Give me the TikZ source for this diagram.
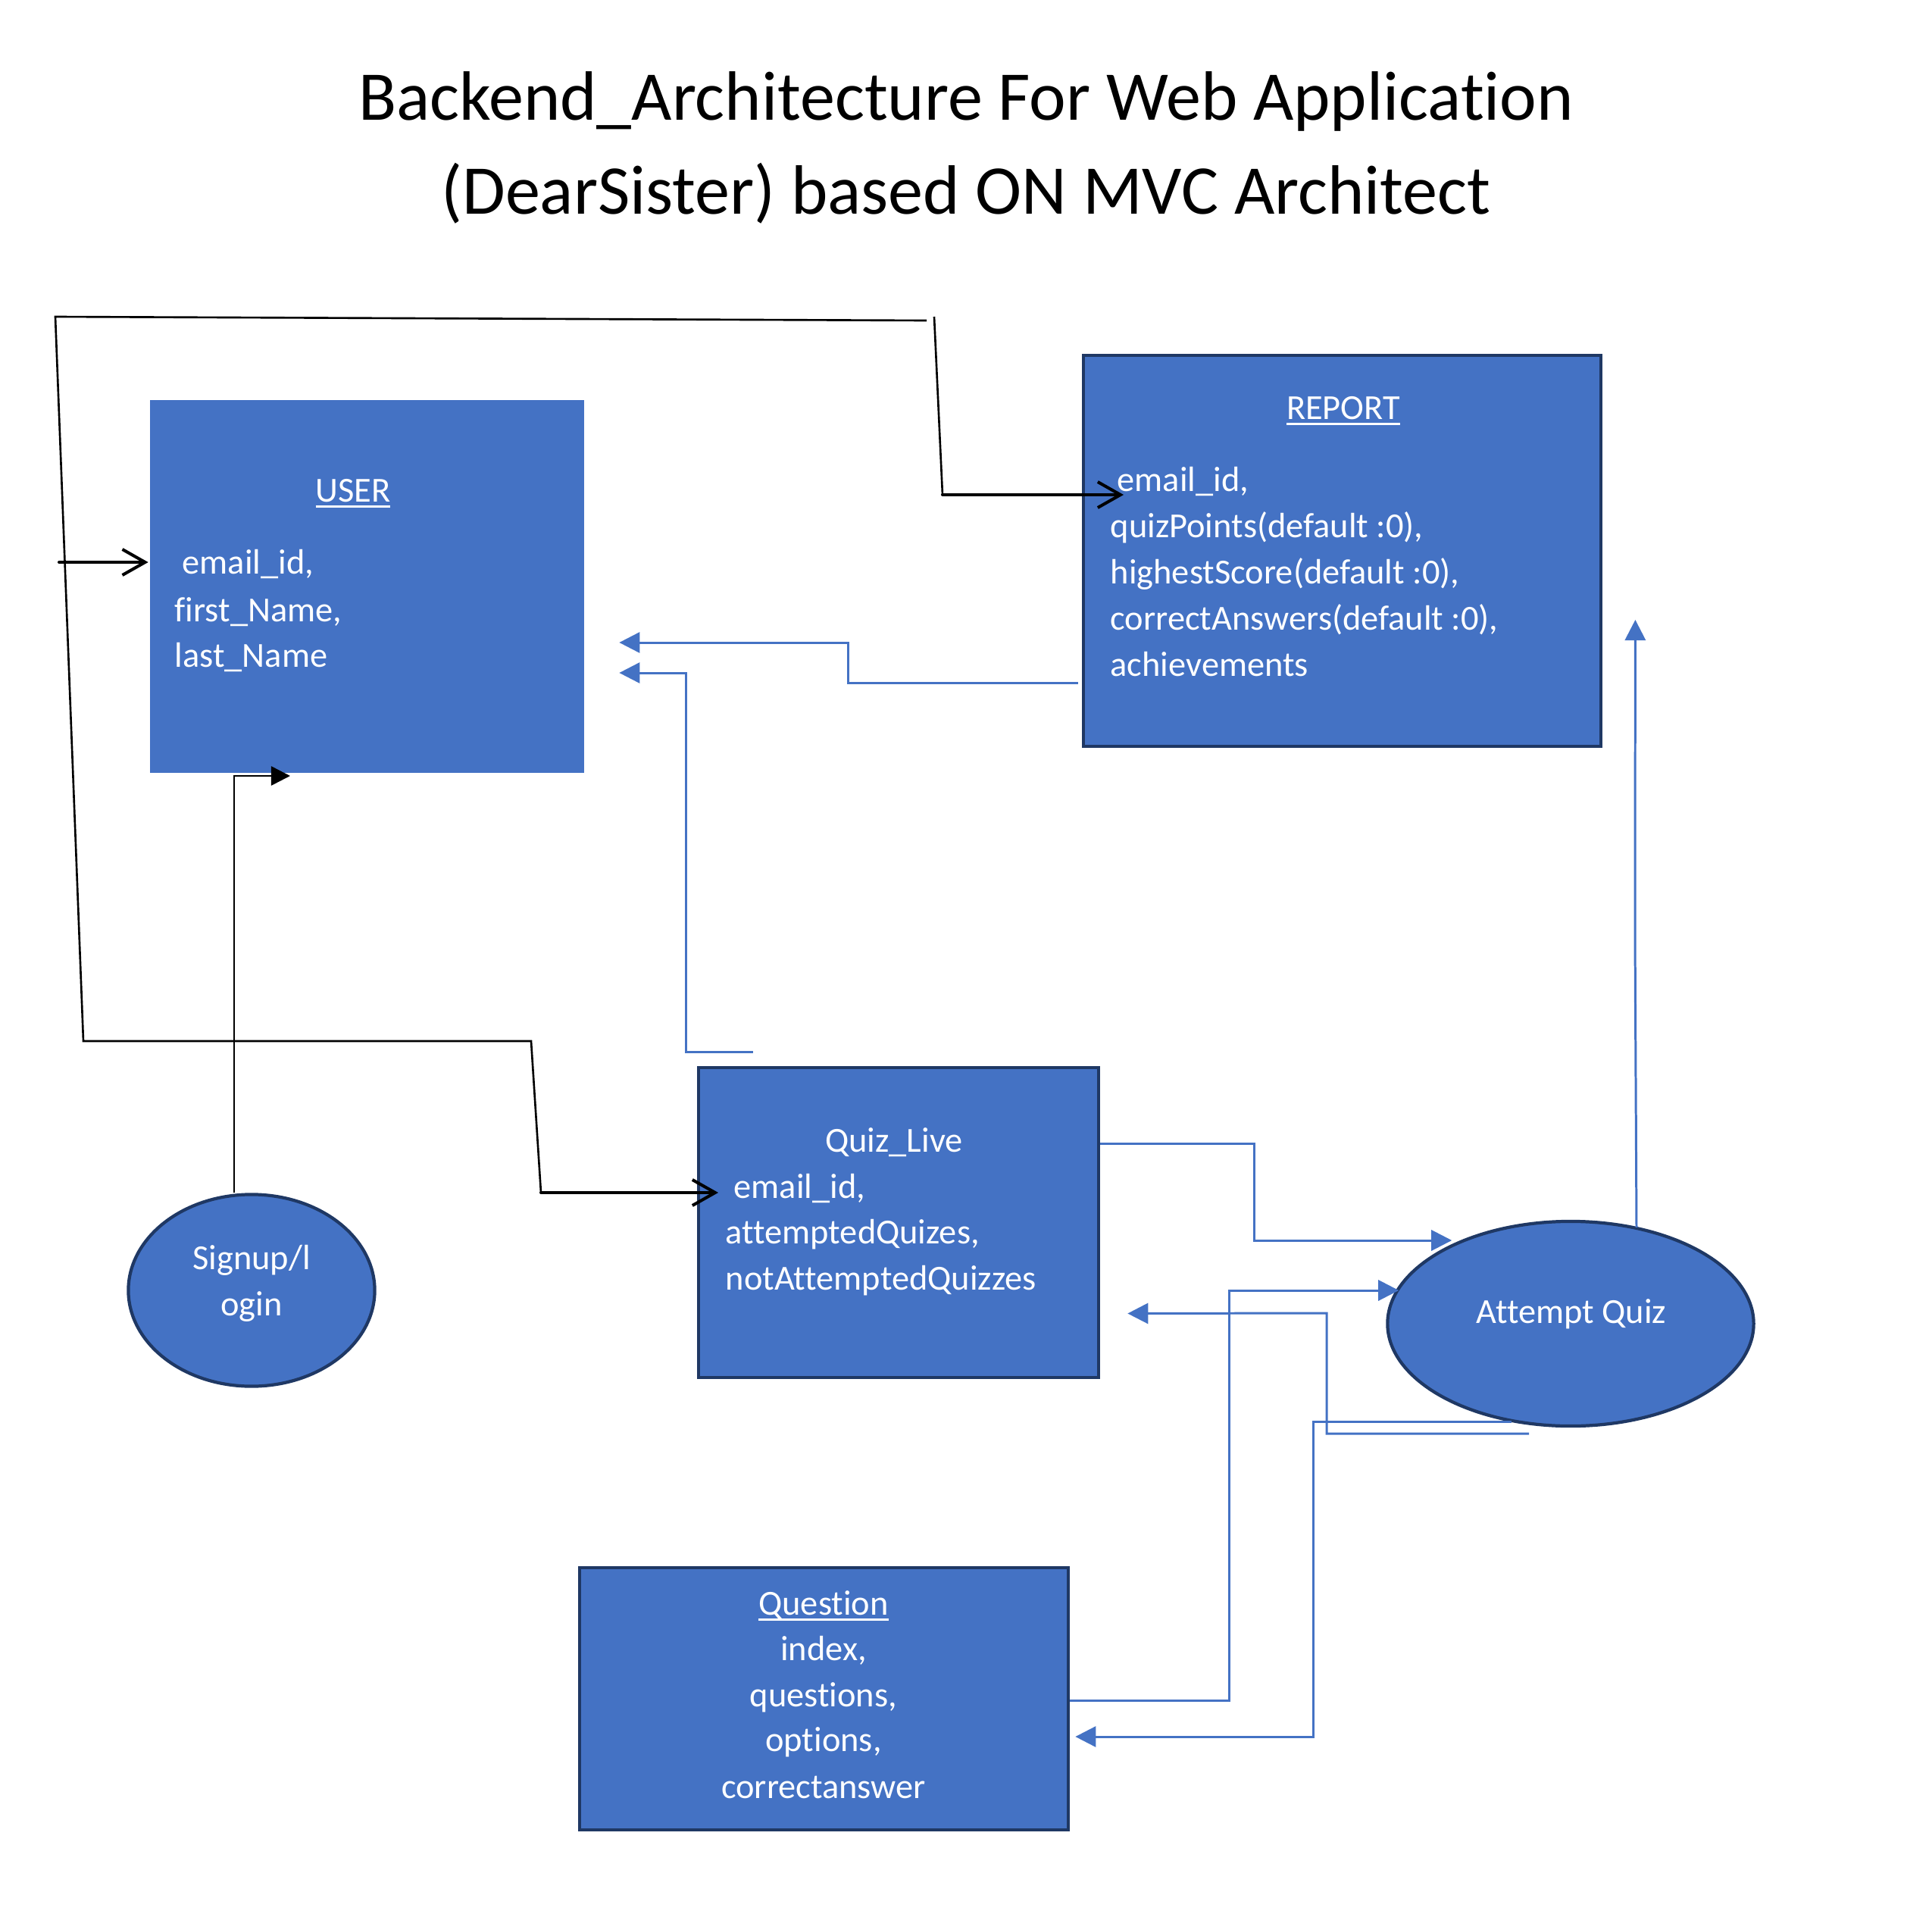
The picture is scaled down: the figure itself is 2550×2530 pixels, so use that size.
\documentclass[tikz,border=0pt]{standalone}
\usepackage{fontspec}
\setmainfont{Carlito}[Ligatures={NoCommon,NoContextual}, Contextuals=NoAlternate]
\usetikzlibrary{arrows.meta,shapes.geometric,calc}

\definecolor{shapeblue}{HTML}{4472C4}
\definecolor{shapenavy}{HTML}{1F3864}
\newcommand{\ulined}[1]{\setbox0=\hbox{#1}\rlap{\rule[-2.2pt]{\wd0}{0.8pt}}\box0}
\newcommand{\bodysize}{\fontsize{13.2pt}{16pt}\selectfont}

\begin{document}
\begin{tikzpicture}[x=0.01cm, y=-0.01cm,
		recordbox/.style={fill=shapeblue, draw=shapenavy, line width=1.25pt, inner sep=0pt},
		entitynode/.style={ellipse, fill=shapeblue, draw=shapenavy, line width=1.2pt, inner sep=0pt},
		fieldtext/.style={text=white, font=\bodysize, inner sep=0pt, anchor=base west},
		headtext/.style={text=white, font=\bodysize, inner sep=0pt, anchor=base},
		blackline/.style={line width=0.75pt},
		blackarrow/.style={line width=1.15pt, line cap=round, -{Straight Barb[length=0.3cm, width=0.34cm]}},
		bluearrow/.style={draw=shapeblue, line width=0.85pt, -{Triangle[length=0.27cm, width=0.27cm]}}]

			\useasboundingbox (0, 0) rectangle (2550, 2530);

			\draw (1275, 158) 	node[font=\fontsize{26.2pt}{30pt}\selectfont, inner sep=0pt, anchor=base] 	(title1) 	{Backend\_Architecture For Web Application};
			\draw (1275, 282) 	node[font=\fontsize{26.2pt}{30pt}\selectfont, inner sep=0pt, anchor=base] 	(title2) 	{(DearSister) based ON MVC Architect};

			\draw (484.5, 774) 	node[recordbox, draw=none, minimum width=5.73cm, minimum height=4.92cm] 	(user) 		{};
			\draw (1771.5, 727) 	node[recordbox, minimum width=6.83cm, minimum height=5.16cm] 	(report) 	{};
			\draw (1186, 1613.5) 	node[recordbox, minimum width=5.28cm, minimum height=4.09cm] 	(quiz) 		{};
			\draw (1087.5, 2242) 	node[recordbox, minimum width=6.45cm, minimum height=3.46cm] 	(question) 	{};
			\draw (332, 1703) 	node[entitynode, minimum width=3.25cm, minimum height=2.53cm] 	(signup) 	{};
			\draw (2073, 1747) 	node[entitynode, minimum width=4.83cm, minimum height=2.70cm] 	(attempt) 	{};

			\draw (466, 662) 	node[headtext] 	(userhead) 	{\ulined{USER}};
			\draw (240, 757) 	node[fieldtext] 	(u1) 	{email\_id,};
			\draw (230, 820) 	node[fieldtext] 	(u2) 	{first\_Name,};
			\draw (230, 880) 	node[fieldtext] 	(u3) 	{last\_Name};

			\draw (1773, 553) 	node[headtext] 	(reporthead) 	{\ulined{REPORT}};
			\draw (1474, 648) 	node[fieldtext] 	(r1) 	{email\_id,};
			\draw (1465, 709) 	node[fieldtext] 	(r2) 	{quizPoints(default :0),};
			\draw (1465, 770) 	node[fieldtext] 	(r3) 	{highestScore(default :0),};
			\draw (1465, 831) 	node[fieldtext] 	(r4) 	{correctAnswers(default :0),};
			\draw (1465, 892) 	node[fieldtext] 	(r5) 	{achievements};

			\draw (1180, 1520) 	node[headtext] 	(quizhead) 	{Quiz\_Live};
			\draw (968, 1581) 	node[fieldtext] 	(q1) 	{email\_id,};
			\draw (957, 1641) 	node[fieldtext] 	(q2) 	{attemptedQuizes,};
			\draw (957, 1702) 	node[fieldtext] 	(q3) 	{notAttemptedQuizzes};

			\draw (1087, 2131) 	node[headtext] 	(questionhead) 	{\ulined{Question}};
			\draw (1087, 2191) 	node[headtext] 	(k1) 	{index,};
			\draw (1087, 2252) 	node[headtext] 	(k2) 	{questions,};
			\draw (1087, 2311) 	node[headtext] 	(k3) 	{options,};
			\draw (1087, 2373) 	node[headtext] 	(k4) 	{correctanswer};

			\draw (332, 1675) 	node[headtext] 	(s1) 	{Signup/l};
			\draw (332, 1736) 	node[headtext] 	(s2) 	{ogin};
			\draw (2074, 1746) 	node[headtext] 	(a1) 	{Attempt Quiz};

			\coordinate (tl) at (73, 418);
			\coordinate (tr) at (1223, 423);
			\coordinate (bl) at (110, 1374);
			\coordinate (bm) at (701, 1374);
			\coordinate (qbend) at (714, 1574);
			\coordinate (ubranch) at (78, 742);
			\coordinate (rtop) at (1233, 418);
			\coordinate (rbend) at (1244, 653);
			\coordinate (sbend) at (309, 1024);

			\draw[blackline] (tr) -- (tl) -- (bl) -- (bm) -- (qbend);
			\draw[blackarrow] (ubranch) -- (user.west |- ubranch);
			\draw[blackarrow] (qbend) -- ([xshift=-0.2cm]q1.west |- qbend);
			\draw[blackline] (rtop) -- (rbend);
			\draw[blackarrow] (rbend) -- ($(r1.base west)+(9, 5)$);
			\draw[blackline, -{Triangle[length=0.25cm, width=0.25cm]}] (signup.north -| sbend) -- (sbend) -- ++(74, 0);

			\draw[bluearrow] ($(report.west)+(-5, 174)$) -| (1119, 848) -- ($(user.east)+(44, 74)$);
			\draw[bluearrow] ($(quiz.north west)+(74, -18)$) -| (905, 888) -- ($(user.east)+(44, 114)$);
			\draw[bluearrow] ($(quiz.north east)+(0, 103)$) -| (1655, 1637) -- ($(attempt.west)+(87, -110)$);
			\draw[bluearrow] ($(question.east)+(0, 2)$) -| (1622, 1703) -- ($(attempt.west)+(17, -44)$);
			\draw[bluearrow] ($(attempt.south)+(-78, -8)$) -| (1733, 2292) -- ($(question.east)+(7, 50)$);
			\draw[bluearrow] ($(attempt.south)+(-55, 8)$) -| (1751, 1733) -- ($(quiz.east)+(36, 120)$);
			\draw[bluearrow] ($(attempt.north)+(87, 10)$) -- (2158, 1230) -- ($(report.east)+(43, 91)$);
		\end{tikzpicture}
\end{document}
